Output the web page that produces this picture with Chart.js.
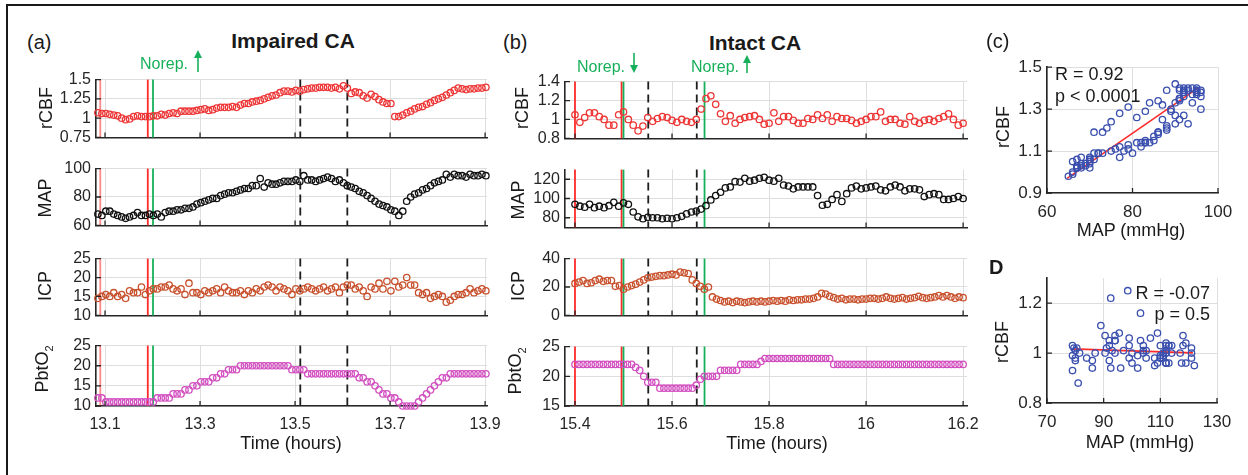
<!DOCTYPE html>
<html>
<head>
<meta charset="utf-8">
<title>Impaired vs intact CA</title>
<script src="https://cdn.jsdelivr.net/npm/chart.js@4.4.1/dist/chart.umd.min.js"></script>
<style>
  html, body { margin: 0; padding: 0; background: #fff; }
  body { position: relative; width: 1248px; height: 475px; overflow: hidden;
         font-family: "Liberation Sans", Arial, Helvetica, sans-serif; color: #1a1a1a; }
  canvas { position: absolute; }
  .lbl { position: absolute; white-space: nowrap; line-height: 1; }
  .frame { position: absolute; left: 6px; top: 4px; width: 1300px; height: 500px;
           border-left: 2px solid #1a1a1a; border-top: 2px solid #1a1a1a; }
  svg.overlay { position: absolute; left: 0; top: 0; }
</style>
</head>
<body>
<div class="frame"></div>
<script>
// ---- panel (a): impaired CA, one sample every 30 s ----
const tStartA = 13.085;
const stepA = 1 / 120;
const rcbfA = [1.07,1.06,1.06,1.05,1.04,1.03,1.00,0.98,0.99,1.02,
  1.03,1.02,1.02,1.02,1.03,1.03,1.05,1.04,1.06,1.07,
  1.06,1.09,1.09,1.09,1.09,1.10,1.11,1.12,1.10,1.11,
  1.13,1.14,1.14,1.14,1.15,1.14,1.17,1.19,1.19,1.21,
  1.22,1.23,1.25,1.27,1.29,1.30,1.33,1.35,1.35,1.34,
  1.36,1.35,1.37,1.38,1.39,1.39,1.40,1.40,1.40,1.39,
  1.40,1.38,1.42,1.39,1.32,1.34,1.33,1.29,1.26,1.31,
  1.28,1.24,1.21,1.19,1.19,1.02,1.02,1.04,1.07,1.09,
  1.12,1.14,1.15,1.18,1.20,1.23,1.25,1.27,1.30,1.33,
  1.36,1.39,1.38,1.37,1.38,1.38,1.39,1.39,1.40];
const mapA = [68,67,70,70,68,67,66,65,66,67,
  69,67,67,68,67,68,66,69,70,70,
  71,71,72,72,73,75,76,77,78,79,
  79,81,82,83,83,84,85,86,86,88,
  88,93,87,90,89,89,90,91,91,91,
  92,91,95,92,92,91,92,93,94,93,
  91,92,90,88,87,86,84,83,81,79,
  77,75,74,73,71,70,67,70,77,80,
  82,83,85,86,88,90,91,92,96,94,
  96,95,95,94,96,95,95,96,95];
const icpA = [14.5,15,15.5,15,16,15,15.5,14.5,16.5,16,
  16,17.5,15.5,16.5,17,17,17.5,17.5,18,17,
  16.5,17,15.5,18.5,16,16,15.5,16.5,16,16.5,
  17,16,17.5,16.5,16,16,16.5,15.5,16.5,16,
  17,16.5,17.5,18,17.5,16.5,17.5,17,16.5,15.5,
  17,16.5,17,17.5,17,16.5,17,17.5,16.5,17,
  17.5,16,17.5,18,18,17,17.5,16.5,15,17.5,
  17,18.5,17,19,16.5,19,17.5,18,20,18,
  18,16,15.5,16,14.5,15,15.5,15,13.5,14,
  15,15.5,15.5,16,17,16,16.5,17,16.5];
const pbto2A = [12,12,11,11,11,11,11,11,11,11,
  11,11,11,11,11,12,12,12,12,13,
  13,13,14,14,15,15,16,16,16,17,
  17,18,18,19,19,19,20,20,20,20,
  20,20,20,20,20,20,20,20,20,19,
  19,19,19,18,18,18,18,18,18,18,
  18,18,18,18,18,18,17,17,16,16,
  15,14,13,13,12,12,11,10,10,10,
  10,11,12,13,14,15,16,17,17,18,
  18,18,18,18,18,18,18,18,18];

// ---- panel (b): intact CA ----
const tStartB = 15.4;
const stepB = 0.01;       // rCBF and MAP
const stepB2 = 1 / 120;   // ICP and PbtO2
const rcbfB = [1.05,0.97,1.02,1.07,1.07,1.03,1.00,0.94,0.94,1.05,
  1.08,1.00,0.94,0.88,0.93,1.02,0.98,1.01,1.03,1.02,
  0.99,0.97,1.00,0.98,0.97,1.00,1.11,1.22,1.25,1.16,
  1.06,0.98,1.04,0.96,1.00,1.02,1.03,1.04,1.00,0.95,
  0.96,1.07,0.98,1.03,1.03,0.99,0.96,0.96,1.01,1.00,
  1.05,1.01,1.05,0.98,1.03,1.01,1.01,0.99,0.96,0.98,
  1.00,1.03,1.03,1.08,0.98,1.00,1.00,0.96,0.95,1.03,
  0.98,0.96,0.99,1.00,0.98,1.01,1.03,1.06,1.00,0.94,
  0.96];
const mapB = [94,92,91,94,90.5,92,90.5,92.5,96,92,
  95.5,94,86,81,79,80.5,80,80,79,79.5,
  79,80,81.5,84,86,87,89,92.5,98.5,103,
  106.5,111,112,117.5,117,121,118,119,121,122,
  119,118,121,114,113,110,112,112,112,112,
  103,93,94,99,104,97,105,111,113,110,
  111,112,113,109,108,112,114,112,108,110,
  110,109,102,104,105,104,99,99,100,102,
  100];
const icpB = [22.5,23.5,24.5,22.5,23,24.5,25.5,24,24.5,24.5,
  20.5,21,18.5,20,21,22,23.5,25,26.5,27,
  27.5,28,28,28.5,29,28.5,30.5,30,29.5,25,
  22.5,20.5,18.5,20,13,11.5,10.5,9.5,10,9,
  10,9.5,9,9.5,10,9.5,10,9.5,10,10.5,
  10,10.5,10,11,10.5,11,11,11.5,11.5,12,
  13,15.5,15,13.5,12.5,11.5,12,11,11.5,11.5,
  11,11.5,11.5,12,12,11.5,12,13,12,11.5,
  12,12.5,11.5,12,12.5,13.5,12.5,12,12.5,13,
  14,13,14,13,12,13,12.5];
const pbto2B = [22,22,22,22,22,22,22,22,22,22,
  22,22,22,22,22,21.5,21,20,19,19,
  19,18,18,18,18,18,18,18,18,18,
  18.5,19.5,20,20,20,20,21,21,21,21,
  21,22,22,22,22,22,22.5,23,23,23,
  23,23,23,23,23,23,23,23,23,23,
  23,23,23,23,22,22,22,22,22,22,
  22,22,22,22,22,22,22,22,22,22,
  22,22,22,22,22,22,22,22,22,22,
  22,22,22,22,22,22,22];

// norepinephrine events and analysis window (hours)
const faintRedA = [13.09];
const redA = [13.19];
const greenA = [13.201];
const dashA = [13.511, 13.61];
const faintRedB = [];
const redB = [15.4, 15.496];
const greenB = [15.5, 15.667];
const dashB = [15.551, 15.651];

// tick labels
const timeTicksA = [13.1, 13.3, 13.5, 13.7, 13.9];
const timeTicksB = [15.4, 15.6, 15.8, 16, 16.2];
const rcbfTicksA = [0.75, 1, 1.25, 1.5];
const mapTicksA = [60, 80, 100];
const icpTicksA = [10, 15, 20, 25];
const pbto2TicksA = [10, 15, 20, 25];
const rcbfTicksB = [0.8, 1, 1.2, 1.4];
const mapTicksB = [80, 100, 120];
const icpTicksB = [0, 20, 40];
const pbto2TicksB = [15, 20, 25];
const mapTicksC = [60, 80, 100];
const rcbfTicksC = [0.9, 1.1, 1.3, 1.5];
const mapTicksD = [70, 90, 110, 130];
const rcbfTicksD = [0.8, 1, 1.2];

// regression lines in (c) and (d)
const fitMapC = [64.7, 95.3];
const fitRcbfC = [0.97, 1.40];
const fitMapD = [78.5, 121.5];
const fitRcbfD = [1.017, 1.001];

const AXIS = '#262626', GRID = '#dedede';
const RED = '#ff2a2a', FAINT_RED = 'rgba(255,60,60,0.6)', GREEN = '#17b05a';
const C_RCBF = '#ee3535', C_MAP = '#111111', C_ICP = '#c8502c', C_PBTO2 = '#d24fc0', C_BLUE = '#3a4fae';
const Y_W = 70, PAD_T = 12, PAD_R = 24;

Chart.defaults.font.family = '"Liberation Sans", Arial, Helvetica, sans-serif';
Chart.defaults.color = AXIS;

function timeSeries(t0, dt, vals) {
  return vals.map((v, i) => ({ x: t0 + i * dt, y: v }));
}
function pairs(xs, ys) {
  return xs.map((v, i) => ({ x: v, y: ys[i] }));
}
function circles(data, color) {
  return { data, borderColor: color, pointBorderColor: color, pointBackgroundColor: 'rgba(0,0,0,0)',
           pointRadius: 3.2, pointHoverRadius: 3.2, pointBorderWidth: 1.3, clip: false };
}
function fixedTicks(list) {
  return s => { s.ticks = list.map(v => ({ value: v })); };
}

// vertical event markers, drawn behind the circles
function eventLines(lines) {
  return {
    id: 'eventLines',
    beforeDatasetsDraw(chart) {
      const { ctx, chartArea: a, scales: { x } } = chart;
      lines.forEach(l => {
        const px = x.getPixelForValue(l.t);
        ctx.save();
        ctx.strokeStyle = l.color;
        ctx.lineWidth = l.width || 1.8;
        ctx.setLineDash(l.dash || []);
        ctx.beginPath();
        ctx.moveTo(px, a.top);
        ctx.lineTo(px, a.bottom);
        ctx.stroke();
        ctx.restore();
      });
    }
  };
}

// MATLAB-like inward tick marks
const innerTicks = {
  id: 'innerTicks',
  afterDatasetsDraw(chart) {
    const { ctx, chartArea: a, scales: { x, y } } = chart;
    ctx.save();
    ctx.strokeStyle = AXIS;
    ctx.lineWidth = 1.3;
    ctx.beginPath();
    x.ticks.forEach(t => {
      const px = x.getPixelForValue(t.value);
      ctx.moveTo(px, a.bottom); ctx.lineTo(px, a.bottom - 5);
    });
    y.ticks.forEach(t => {
      const py = y.getPixelForValue(t.value);
      ctx.moveTo(a.left, py); ctx.lineTo(a.left + 5, py);
    });
    ctx.stroke();
    ctx.restore();
  }
};

function makeChart(box, o) {
  const xh = o.xLabels ? 34 : 12;
  const w = box.r - box.l + Y_W + PAD_R, h = box.b - box.t + PAD_T + xh;
  const c = document.createElement('canvas');
  c.width = w; c.height = h;
  c.style.left = (box.l - Y_W) + 'px';
  c.style.top = (box.t - PAD_T) + 'px';
  c.style.width = w + 'px'; c.style.height = h + 'px';
  document.body.appendChild(c);
  const tickFont = { size: o.tickSize || 16 };
  return new Chart(c, {
    type: 'scatter',
    data: { datasets: o.datasets },
    options: {
      responsive: false, animation: false, devicePixelRatio: 1,
      layout: { padding: { left: 0, top: PAD_T, right: PAD_R, bottom: 0 } },
      plugins: { legend: { display: false }, tooltip: { enabled: false } },
      scales: {
        x: {
          type: 'linear', min: o.xMin, max: o.xMax,
          afterBuildTicks: fixedTicks(o.xTicks),
          afterFit: s => { s.height = xh; },
          grid: { color: GRID, drawTicks: false },
          border: { color: AXIS, width: 1.6 },
          ticks: { display: !!o.xLabels, padding: 9, color: AXIS, font: tickFont,
                   autoSkip: false, maxRotation: 0, callback: v => String(v) }
        },
        y: {
          min: o.yMin, max: o.yMax,
          afterBuildTicks: fixedTicks(o.yTicks),
          afterFit: s => { s.width = Y_W; },
          grid: { color: GRID, drawTicks: false },
          border: { color: AXIS, width: 1.6 },
          ticks: { padding: 5, color: AXIS, font: tickFont, autoSkip: false, callback: v => String(v) }
        }
      }
    },
    plugins: [eventLines(o.lines || []), innerTicks]
  });
}

function markerList(faint, reds, greens, dashes) {
  return [
    ...dashes.map(t => ({ t, color: '#1e1e1e', dash: [8, 5], width: 1.8 })),
    ...faint.map(t => ({ t, color: FAINT_RED })),
    ...reds.map(t => ({ t, color: RED })),
    ...greens.map(t => ({ t, color: GREEN }))
  ];
}

// ---- panel (a) ----
const linesA = markerList(faintRedA, redA, greenA, dashA);
const xA = { xMin: 13.081, xMax: 13.904, xTicks: timeTicksA, lines: linesA };
makeChart({ l: 96, r: 487, t: 77, b: 140 }, { ...xA, yMin: 0.75, yMax: 1.5, yTicks: rcbfTicksA,
  datasets: [circles(timeSeries(tStartA, stepA, rcbfA), C_RCBF)] });
makeChart({ l: 96, r: 487, t: 166, b: 228 }, { ...xA, yMin: 60, yMax: 100, yTicks: mapTicksA,
  datasets: [circles(timeSeries(tStartA, stepA, mapA), C_MAP)] });
makeChart({ l: 96, r: 487, t: 256, b: 318 }, { ...xA, yMin: 10, yMax: 25, yTicks: icpTicksA,
  datasets: [circles(timeSeries(tStartA, stepA, icpA), C_ICP)] });
makeChart({ l: 96, r: 487, t: 343, b: 406 }, { ...xA, xLabels: true, yMin: 10, yMax: 25, yTicks: pbto2TicksA,
  datasets: [circles(timeSeries(tStartA, stepA, pbto2A), C_PBTO2)] });

// ---- panel (b) ----
const linesB = markerList(faintRedB, redB, greenB, dashB);
const xB = { xMin: 15.3794, xMax: 16.208, xTicks: timeTicksB, lines: linesB };
makeChart({ l: 565, r: 967, t: 79, b: 141 }, { ...xB, yMin: 0.8, yMax: 1.4, yTicks: rcbfTicksB,
  datasets: [circles(timeSeries(tStartB, stepB, rcbfB), C_RCBF)] });
makeChart({ l: 565, r: 967, t: 167, b: 230 }, { ...xB, yMin: 70, yMax: 130, yTicks: mapTicksB,
  datasets: [circles(timeSeries(tStartB, stepB, mapB), C_MAP)] });
makeChart({ l: 565, r: 967, t: 256, b: 318 }, { ...xB, yMin: 0, yMax: 40, yTicks: icpTicksB,
  datasets: [circles(timeSeries(tStartB, stepB2, icpB), C_ICP)] });
makeChart({ l: 565, r: 967, t: 344, b: 406 }, { ...xB, xLabels: true, yMin: 15, yMax: 25, yTicks: pbto2TicksB,
  datasets: [circles(timeSeries(tStartB, stepB2, pbto2B), C_PBTO2)] });

// ---- panels (c) and D: rCBF against MAP ----
function fitLine(xs, ys) {
  return { type: 'line', data: pairs(xs, ys), borderColor: RED, borderWidth: 1.6,
           pointRadius: 0, showLine: true, clip: false };
}
makeChart({ l: 1047, r: 1218, t: 64, b: 193 }, {
  xMin: 60, xMax: 100, xTicks: mapTicksC, yMin: 0.9, yMax: 1.5, yTicks: rcbfTicksC,
  xLabels: true, tickSize: 17,
  datasets: [circles(pairs(mapA, rcbfA), C_BLUE), fitLine(fitMapC, fitRcbfC)] });
makeChart({ l: 1047, r: 1217, t: 275, b: 403 }, {
  xMin: 70, xMax: 130, xTicks: mapTicksD, yMin: 0.8, yMax: 1.3, yTicks: rcbfTicksD,
  xLabels: true, tickSize: 17,
  datasets: [circles(pairs(mapB, rcbfB), C_BLUE), fitLine(fitMapD, fitRcbfD)] });

// ---- text ----
function label(html, x, y, o = {}) {
  const d = document.createElement('div');
  d.className = 'lbl';
  d.innerHTML = html;
  d.style.left = x + 'px';
  d.style.top = y + 'px';
  d.style.fontSize = (o.size || 18) + 'px';
  if (o.bold) d.style.fontWeight = 'bold';
  if (o.color) d.style.color = o.color;
  const ax = o.align === 'left' ? '0' : o.align === 'right' ? '-100%' : '-50%';
  d.style.transform = `translate(${ax},-50%)` + (o.rot ? ' rotate(-90deg)' : '');
  document.body.appendChild(d);
}

label('(a)', 27, 42, { size: 20, align: 'left' });
label('Impaired CA', 293, 40, { size: 21, bold: true });
label('(b)', 503, 42, { size: 20, align: 'left' });
label('Intact CA', 755, 42, { size: 21, bold: true });
label('(c)', 986, 41, { size: 20, align: 'left' });
label('D', 989, 267, { size: 20, bold: true, align: 'left' });

label('Norep.', 140, 64, { size: 16, color: GREEN, align: 'left' });
label('Norep.', 577, 67, { size: 16, color: GREEN, align: 'left' });
label('Norep.', 691, 67, { size: 16, color: GREEN, align: 'left' });

label('rCBF', 46, 108, { rot: true });
label('MAP', 45, 198, { rot: true });
label('ICP', 45, 286, { rot: true });
label('PbtO<sub style="font-size:11px">2</sub>', 44, 369, { rot: true });
label('rCBF', 522, 108, { rot: true });
label('MAP', 518, 200, { rot: true });
label('ICP', 518, 286, { rot: true });
label('PbtO<sub style="font-size:11px">2</sub>', 517, 371, { rot: true });
label('Time (hours)', 291, 443);
label('Time (hours)', 777, 443);

label('rCBF', 1003, 127, { rot: true });
label('MAP (mmHg)', 1131, 230);
label('R = 0.92', 1055, 74, { align: 'left' });
label('p &lt; 0.0001', 1055, 96, { align: 'left' });
label('rCBF', 1002, 342, { rot: true });
label('MAP (mmHg)', 1140, 442);
label('R = -0.07', 1210, 293, { align: 'right' });
label('p = 0.5', 1210, 314, { align: 'right' });

// norepinephrine arrows
const NS = 'http://www.w3.org/2000/svg';
const svg = document.createElementNS(NS, 'svg');
svg.setAttribute('class', 'overlay');
svg.setAttribute('width', 1248);
svg.setAttribute('height', 475);
document.body.appendChild(svg);
function arrow(x, y0, y1, up) {
  const head = 8, hw = 4;
  const ln = document.createElementNS(NS, 'line');
  ln.setAttribute('x1', x); ln.setAttribute('x2', x);
  ln.setAttribute('y1', up ? y0 + head : y0);
  ln.setAttribute('y2', up ? y1 : y1 - head);
  ln.setAttribute('stroke', GREEN); ln.setAttribute('stroke-width', 1.6);
  svg.appendChild(ln);
  const tri = document.createElementNS(NS, 'polygon');
  const pts = up
    ? [[x, y0], [x - hw, y0 + head], [x + hw, y0 + head]]
    : [[x, y1], [x - hw, y1 - head], [x + hw, y1 - head]];
  tri.setAttribute('points', pts.map(p => p.join(',')).join(' '));
  tri.setAttribute('fill', GREEN);
  svg.appendChild(tri);
}
arrow(198, 50, 72, true);
arrow(634, 53, 73, false);
arrow(747, 55, 73, true);
</script>
</body>
</html>
